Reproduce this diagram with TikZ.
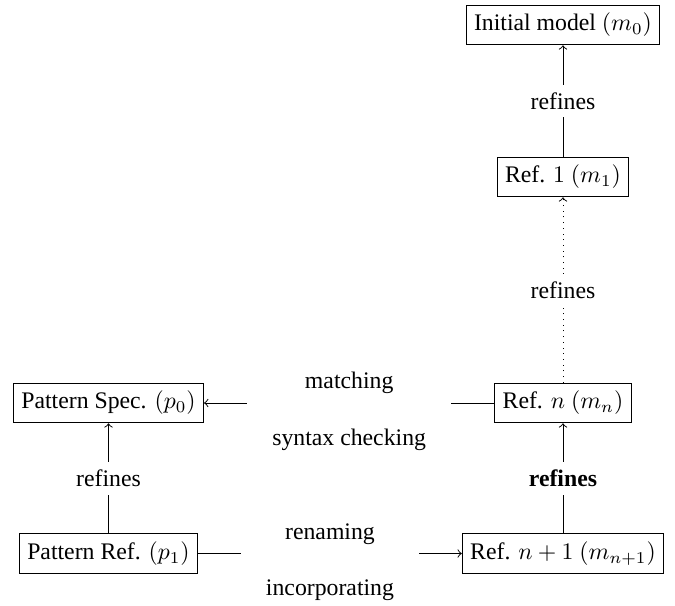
\documentclass[tikz,border=0pt]{standalone}
\usepackage[no-math]{fontspec}
\setmainfont{Liberation Serif}
\usepackage{amsmath}
\usetikzlibrary{calc}
\newcommand{\refedge}[4]{\draw[->,#4] (#1) --node[fill=white]{#3} (#2);}
\newcommand{\opedge}[4]{\draw[->] (#1) --node[fill=white,align=center,inner xsep=10.5pt,yshift=-3.5pt]{#3\\[11.6pt]#4} (#2);}

\begin{document}
\begin{tikzpicture}[x=0.421pt,y=-0.421pt]
			\useasboundingbox (0,0) rectangle (675,605);
			\node[draw](m0) at (563,25) {Initial model $(m_0)$};
			\node[draw](m1) at (563,177) {Ref. $1$ $(m_1)$};
			\node[draw](mn) at (563,403) {Ref. $n$ $(m_n)$};
			\node[draw](mn1) at (563,553.5) {Ref. $n+1$ $(m_{n+1})$};
			\node[draw](p0) at (108.5,403) {Pattern Spec. $(p_0)$};
			\node[draw](p1) at (108.5,553.5) {Pattern Ref. $(p_1)$};
			
			\refedge{m1}{m0}{refines}{}
			\refedge{mn}{m1}{refines}{dotted}
			\refedge{mn1}{mn}{\textbf{refines}}{}
			\refedge{p1}{p0}{refines}{}
			\opedge{mn}{p0}{matching}{syntax checking}
			\opedge{p1}{mn1}{renaming}{incorporating}
		\end{tikzpicture}
\end{document}
